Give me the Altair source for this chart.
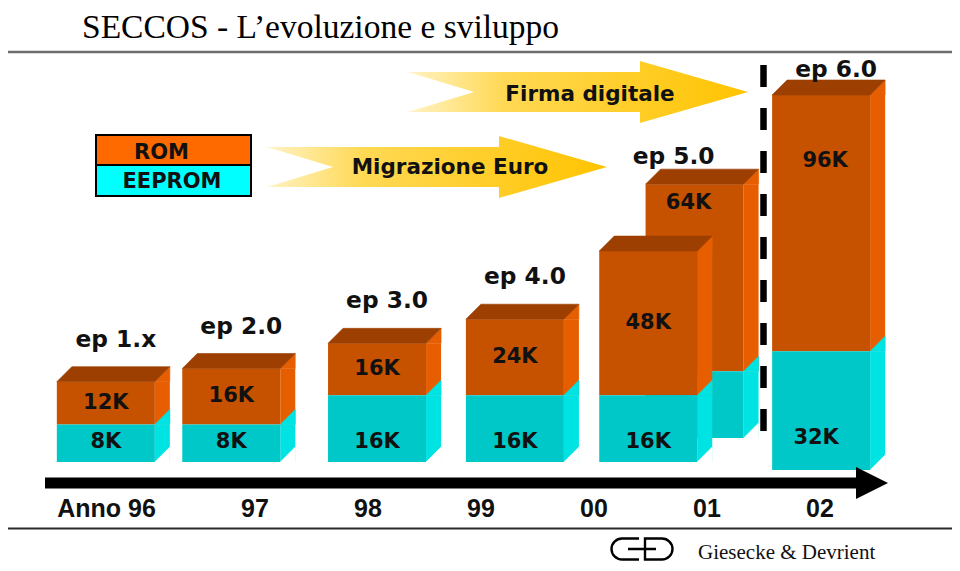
import altair as alt
import pandas as pd

# ---------------- data ----------------
title_text = "SECCOS - L\u2019evoluzione e sviluppo"
versions = ["ep 1.x", "ep 2.0", "ep 3.0", "ep 4.0", "ep 5.0", "ep 5.0", "ep 6.0"]
release = [95.68, 96.79, 98.08, 99.30, 100.48, 100.89, 102.01]   # position on the year axis
eeprom_k = [8, 8, 16, 16, 16, 16, 32]
rom_k = [12, 16, 16, 24, 48, 64, 96]
year_pos = [96, 97, 98, 99, 100, 101, 102]
year_labels = ["96", "97", "98", "99", "00", "01", "02"]
axis_prefix = "Anno"
legend_labels = ["ROM", "EEPROM"]
arrow_labels = ["Migrazione Euro", "Firma digitale"]
company = "Giesecke & Devrient"

# ---------------- styles ----------------
SANS = "DejaVu Sans"
ARIAL = "Liberation Sans"
SERIF = "Liberation Serif"
TXT = "#111111"
ROM_FRONT = "#C65200"
ROM_TOP = "#9C3F00"
ROM_SIDE = "#E65E00"
EE_FRONT = "#00C8C8"
EE_SIDE = "#00E3E3"
LEG_ROM = "#FF6A00"
LEG_EE = "#00FFFF"
P = 0.83          # visual compression used by the slide
HALF = 49         # half front width (px)
DEPTH = 15        # 3D depth (px)

XS = alt.Scale(domain=[96, 102], range=[134, 812], nice=False, zero=False, padding=0)
YS = alt.Scale(type="pow", exponent=P, domain=[0, 128], range=[454, 79], nice=False)

TOP_PATH = f"M{-HALF},0 L{HALF},0 L{HALF + DEPTH},{-DEPTH} L{-HALF + DEPTH},{-DEPTH} Z"
SIDE_TRI = f"M{HALF},0 L{HALF + DEPTH},{-DEPTH} L{HALF + DEPTH},0 Z"
ARROW_PATH = "M-170,-20 L62,-20 L62,-31 L170,0 L62,31 L62,20 L-170,20 L-104,0 Z"
HEAD_PATH = "M0,0 L-32,-16 L-32,16 Z"
LOGO_PATH = ("M-3,-10.5 L-20,-10.5 A10.5,10.5 0 0 0 -20,10.5 L-3,10.5 "
             "M3,-10.5 L20,-10.5 A10.5,10.5 0 0 1 20,10.5 L3,10.5 Z "
             "M-14,0 L14,0")

cards = pd.DataFrame({"version": versions, "release": release,
                      "eeprom": eeprom_k, "rom": rom_k})
cards["total"] = cards["eeprom"] + cards["rom"]
cards["zero"] = 0
cards["rom_label"] = cards["rom"].astype(str) + "K"
cards["eeprom_label"] = cards["eeprom"].astype(str) + "K"
main = cards.iloc[0:5]
back = cards.iloc[5:6]
last = cards.iloc[6:7]

one = pd.DataFrame({"k": [0]})


def X():
    return alt.X("release:Q", scale=XS, axis=None)


def Y(f):
    return alt.Y(f + ":Q", scale=YS, axis=None)


def tri(b, color, field, yoff, path):
    return b.mark_point(shape=path, size=4, filled=True, opacity=1, color=color,
                        stroke=color, strokeWidth=0.6, yOffset=yoff
                        ).encode(x=X(), y=Y(field))


def face(b, color, width, xoff, yoff, top, bottom):
    return b.mark_bar(color=color, size=width, xOffset=xoff, x2Offset=xoff,
                      yOffset=yoff, y2Offset=yoff).encode(
        x=X(), y=Y(top), y2=f"{bottom}:Q")


def card_faces(d, yoff):
    b = alt.Chart(d)
    sdx = HALF + DEPTH / 2
    return [
        face(b, ROM_SIDE, DEPTH, sdx, yoff, "total", "eeprom"),
        tri(b, ROM_SIDE, "total", yoff, SIDE_TRI),
        face(b, EE_SIDE, DEPTH, sdx, yoff, "eeprom", "zero"),
        tri(b, EE_SIDE, "eeprom", yoff, SIDE_TRI),
        tri(b, "white", "zero", yoff, SIDE_TRI),
        face(b, ROM_FRONT, 2 * HALF, 0, yoff, "total", "eeprom"),
        face(b, EE_FRONT, 2 * HALF, 0, yoff, "eeprom", "zero"),
        tri(b, ROM_TOP, "total", yoff, TOP_PATH),
    ]


def ktext(d, field, yfield, yoff, xoff=0, size=21, baseline="middle"):
    return alt.Chart(d).mark_text(font=SANS, fontWeight="bold", fontSize=size,
                                  baseline=baseline, color=TXT,
                                  xOffset=xoff, yOffset=yoff).encode(
        x=X(), y=Y(yfield), text=f"{field}:N")


layers = []

# --- title and rules ---
layers.append(alt.Chart(pd.DataFrame({"t": [title_text]})).mark_text(
    font=SERIF, fontSize=33.5, align="left", baseline="alphabetic", color="black"
).encode(x=alt.value(74), y=alt.value(30), text="t:N"))
layers.append(alt.Chart(one).mark_rule(color="#6e6e6e", strokeWidth=2.5).encode(
    x=alt.value(0), x2=alt.value(944), y=alt.value(44)))
layers.append(alt.Chart(one).mark_rule(color="#2a2a2a", strokeWidth=2).encode(
    x=alt.value(0), x2=alt.value(944), y=alt.value(520.5)))

# --- yellow arrows ---
GRAD = alt.LinearGradient(gradient="linear", x1=0, x2=1, y1=0, y2=0, stops=[
    alt.GradientStop(color="#FFF3C6", offset=0),
    alt.GradientStop(color="#FFD955", offset=0.28),
    alt.GradientStop(color="#FFC300", offset=1)])
arrows = pd.DataFrame({"label": arrow_labels})
arrow_pos = {"Migrazione Euro": (429, 159, 442, 166), "Firma digitale": (570, 84, 582, 93)}
for lab in arrow_labels:
    cx, cy, tx, ty = arrow_pos[lab]
    src = alt.Chart(arrows).transform_filter(alt.datum.label == lab)
    layers.append(src.mark_point(shape=ARROW_PATH, size=4, filled=True, fill=GRAD,
                                 opacity=1, strokeWidth=0).encode(
        x=alt.value(cx), y=alt.value(cy)))
    layers.append(src.mark_text(font=SANS, fontWeight="bold", fontSize=21.5,
                                align="center", baseline="alphabetic", color=TXT).encode(
        x=alt.value(tx), y=alt.value(ty), text="label:N"))

# --- legend box ---
leg = pd.DataFrame({"label": legend_labels})
leg_pos = {"ROM": (LEG_ROM, 127, 157, 153.5, 151), "EEPROM": (LEG_EE, 157, 188, 164, 180)}
for lab in legend_labels:
    col, y1, y2, tx, ty = leg_pos[lab]
    src = alt.Chart(leg).transform_filter(alt.datum.label == lab)
    layers.append(src.mark_rect(fill=col, stroke="black", strokeWidth=2).encode(
        x=alt.value(88), x2=alt.value(243), y=alt.value(y1), y2=alt.value(y2)))
    layers.append(src.mark_text(font=SANS, fontWeight="bold", fontSize=21,
                                align="center", baseline="alphabetic", color=TXT).encode(
        x=alt.value(tx), y=alt.value(ty), text="label:N"))

# --- dashed separator ---
layers.append(alt.Chart(one).mark_rule(color="black", strokeWidth=6.5,
                                       strokeDash=[22, 21]).encode(
    x=alt.value(755.5), y=alt.value(57), y2=alt.value(424)))

# --- 3D cards ---
layers += card_faces(back, -24)
layers += card_faces(main, 0)
layers += card_faces(last, 8)

# --- labels ---
mid_expr = f"pow((pow(datum.eeprom,{P})+pow(datum.total,{P}))/2,{1 / P})"
layers.append(alt.Chart(main).transform_calculate(labmid=mid_expr).mark_text(
    font=SANS, fontWeight="bold", fontSize=21, baseline="middle", color=TXT).encode(
    x=X(), y=Y("labmid"), text="rom_label:N"))
layers.append(ktext(main, "eeprom_label", "zero", -20))
layers.append(ktext(main.iloc[0:4], "version", "total", -35, xoff=10, size=23.3,
                    baseline="alphabetic"))
layers.append(ktext(back, "rom_label", "total", -24 + 19, xoff=-6))
layers.append(ktext(back, "version", "total", -24 - 20, xoff=-21, size=23.3,
                    baseline="alphabetic"))
layers.append(ktext(last, "rom_label", "total", 74, xoff=4))
layers.append(ktext(last, "eeprom_label", "zero", -24, xoff=-5))
layers.append(ktext(last, "version", "total", -10, xoff=15, size=23.3,
                    baseline="alphabetic"))

# --- timeline ---
layers.append(alt.Chart(one).mark_rule(color="black", strokeWidth=11).encode(
    x=alt.value(37), x2=alt.value(852), y=alt.value(475)))
layers.append(alt.Chart(one).mark_point(shape=HEAD_PATH, size=4, filled=True,
                                        opacity=1, color="black").encode(
    x=alt.value(880), y=alt.value(475)))
years = pd.DataFrame({"pos": year_pos, "label": year_labels})
layers.append(alt.Chart(years).mark_text(font=ARIAL, fontWeight="bold", fontSize=25,
                                         align="center", baseline="alphabetic",
                                         color=TXT).encode(
    x=alt.X("pos:Q", scale=XS, axis=None), y=alt.value(509), text="label:N"))
layers.append(alt.Chart(pd.DataFrame({"pos": [year_pos[0]], "label": [axis_prefix]})).mark_text(
    font=ARIAL, fontWeight="bold", fontSize=25, align="right", baseline="alphabetic",
    color=TXT, dx=-21).encode(
    x=alt.X("pos:Q", scale=XS, axis=None), y=alt.value(509), text="label:N"))

# --- company logo ---
layers.append(alt.Chart(one).mark_point(shape=LOGO_PATH, size=4, filled=False,
                                        opacity=1, color="black", strokeWidth=2.4).encode(
    x=alt.value(634), y=alt.value(541)))
layers.append(alt.Chart(pd.DataFrame({"t": [company]})).mark_text(
    font=SERIF, fontSize=21, align="left", baseline="alphabetic", color="#111").encode(
    x=alt.value(690), y=alt.value(551), text="t:N"))

chart = alt.layer(*layers).properties(
    width=944, height=555, padding=0,
    autosize=alt.AutoSizeParams(type="none"),
    background="white",
).configure_view(stroke=None)

chart.save("out.html", embed_options={"renderer": "svg", "actions": False})
